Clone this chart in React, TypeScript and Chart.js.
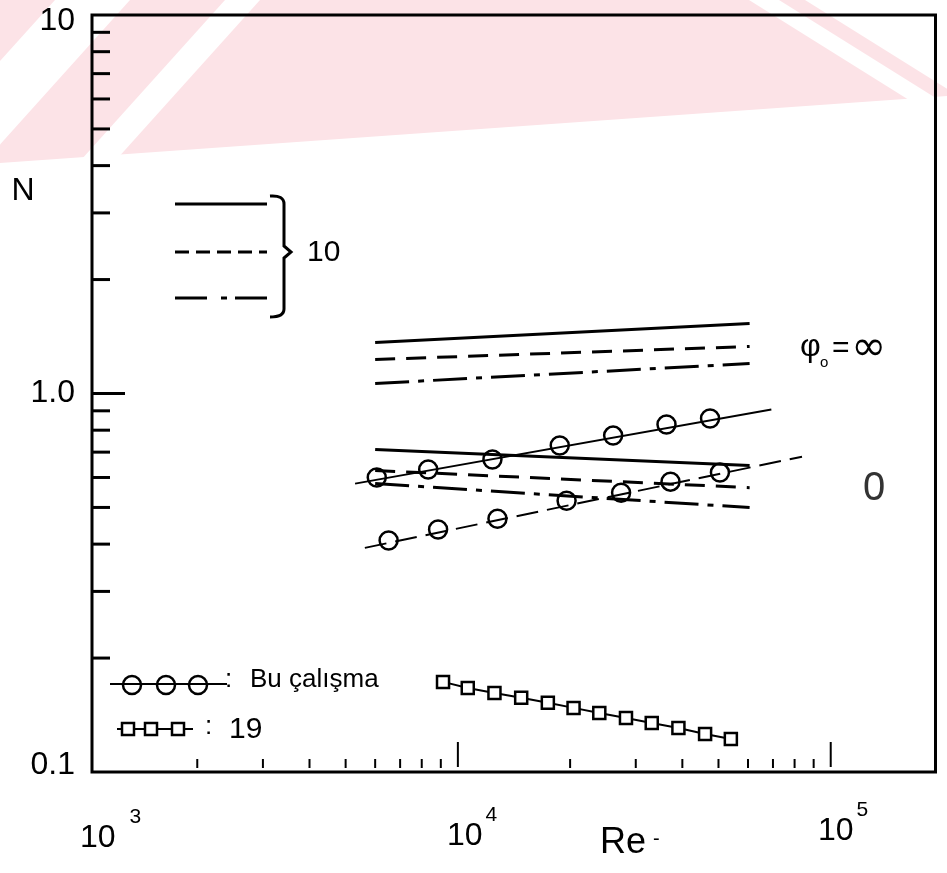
import { useEffect, useRef } from 'react';
import { Chart, registerables } from 'chart.js';
Chart.register(...registerables);

// ---- axis ranges / ticks ----
const X_MIN = 1044;
const X_MAX = 191000;
const Y_MIN = 0.1;
const Y_MAX = 10;
const xMajorTicks = [1000, 10000, 100000];
const xTickExponents = ['3', '4', '5'];
const xMinorTicks = [2000, 3000, 4000, 5000, 6000, 7000, 8000, 9000, 20000, 30000, 40000, 50000, 60000, 70000, 80000, 90000];
const yTickValues = [0.1, 1, 10];
const yTickLabels = ['0.1', '1.0', '10'];
const yMinorTicks = [0.2, 0.3, 0.4, 0.5, 0.6, 0.7, 0.8, 0.9, 2, 3, 4, 5, 6, 7, 8, 9];

// ---- series ----
const lineRe = [6000, 60600];
const phiInfSolid = [1.364, 1.532];
const phiInfDashed = [1.23, 1.331];
const phiInfDashDot = [1.063, 1.2];
const phi0Solid = [0.711, 0.645];
const phi0Dashed = [0.626, 0.564];
const phi0DashDot = [0.578, 0.4995];

const fit1Re = [5300, 69300];
const fit1N = [0.578, 0.907];
const circle1Re = [6060, 8325, 12380, 18760, 26090, 36270, 47460];
const circle1N = [0.6, 0.63, 0.669, 0.729, 0.774, 0.828, 0.859];

const fit2Re = [5630, 83750];
const fit2N = [0.391, 0.681];
const circle2Re = [6520, 8850, 12770, 19570, 27400, 37180, 50450];
const circle2N = [0.409, 0.437, 0.467, 0.521, 0.547, 0.585, 0.618];

const squareRe = [9124, 10630, 12535, 14785, 17430, 20430, 23950, 28240, 33110, 39040, 46030, 53970];
const squareN = [0.173, 0.1668, 0.1618, 0.157, 0.1523, 0.1477, 0.1432, 0.1389, 0.1348, 0.1307, 0.126, 0.1223];

const FONT = "'Liberation Sans', Arial, sans-serif";
const zip = (xs: number[], ys: number[]) => xs.map((x, i) => ({ x, y: ys[i] }));

const DASH = [20, 11];
const DASHDOT = [34, 9, 6, 9];

const decor = {
  id: 'decor',
  beforeDraw(chart: any) {
    const ctx = chart.ctx as CanvasRenderingContext2D;
    ctx.save();
    ctx.fillStyle = '#ffffff';
    ctx.fillRect(0, 0, chart.width, chart.height);
    // pale red watermark
    ctx.beginPath();
    ctx.moveTo(0, 0);
    ctx.lineTo(chart.width, 0);
    ctx.lineTo(chart.width, 96);
    ctx.lineTo(0, 163);
    ctx.closePath();
    ctx.clip();
    ctx.fillStyle = '#fce3e7';
    const band = (a: number, b: number, s: number) => {
      ctx.beginPath();
      ctx.moveTo(a, 0);
      ctx.lineTo(b, 0);
      ctx.lineTo(b + s * 200, 200);
      ctx.lineTo(a + s * 200, 200);
      ctx.closePath();
      ctx.fill();
    };
    band(-400, 55, -0.9);
    band(130, 225, -0.9);
    band(779, 805, 1.6);
    ctx.beginPath();
    ctx.moveTo(260, 0);
    ctx.lineTo(749, 0);
    ctx.lineTo(749 + 320, 200);
    ctx.lineTo(260 - 180, 200);
    ctx.closePath();
    ctx.fill();
    ctx.restore();
  },
  afterDraw(chart: any) {
    const ctx = chart.ctx as CanvasRenderingContext2D;
    const { left, right, top, bottom } = chart.chartArea;
    const xs = chart.scales.x;
    const ys = chart.scales.y;
    ctx.save();
    ctx.strokeStyle = '#000';
    ctx.fillStyle = '#000';
    ctx.lineCap = 'butt';
    // frame
    ctx.lineWidth = 3;
    ctx.strokeRect(left, top, right - left, bottom - top);
    // y ticks
    yMinorTicks.forEach((v) => {
      const p = ys.getPixelForValue(v);
      ctx.beginPath();
      ctx.moveTo(left, p);
      ctx.lineTo(left + 18, p);
      ctx.stroke();
    });
    {
      const p = ys.getPixelForValue(1);
      ctx.beginPath();
      ctx.moveTo(left, p);
      ctx.lineTo(left + 33, p);
      ctx.stroke();
    }
    // x ticks
    ctx.lineWidth = 2;
    xMinorTicks.forEach((v) => {
      const p = xs.getPixelForValue(v);
      ctx.beginPath();
      ctx.moveTo(p, bottom - 4);
      ctx.lineTo(p, bottom - 13);
      ctx.stroke();
    });
    xMajorTicks.forEach((v) => {
      if (v < X_MIN) return;
      const p = xs.getPixelForValue(v);
      ctx.beginPath();
      ctx.moveTo(p, bottom - 5);
      ctx.lineTo(p, bottom - 30);
      ctx.stroke();
    });
    // y tick labels
    ctx.font = `32px ${FONT}`;
    ctx.textAlign = 'right';
    ctx.textBaseline = 'middle';
    yTickValues.forEach((v, i) => {
      let p = ys.getPixelForValue(v);
      if (v === Y_MAX) p += 6;
      if (v === Y_MIN) p -= 7;
      ctx.fillText(yTickLabels[i], left - 17, p);
    });
    // y title
    ctx.textAlign = 'center';
    ctx.fillText('N', 23, 191);
    // x tick labels
    ctx.textBaseline = 'alphabetic';
    ctx.textAlign = 'left';
    const xLabelLeft = [80, 447, 818];
    const xLabelBase = [847, 845, 840];
    xMajorTicks.forEach((_v, i) => {
      ctx.font = `32px ${FONT}`;
      ctx.fillText('10', xLabelLeft[i], xLabelBase[i]);
      const w = ctx.measureText('10').width;
      ctx.font = `21px ${FONT}`;
      ctx.fillText(xTickExponents[i], xLabelLeft[i] + w + (i === 0 ? 14 : 3), xLabelBase[i] - 24);
    });
    // x title
    ctx.font = `36px ${FONT}`;
    ctx.fillText('Re', 600, 853);
    ctx.font = `20px ${FONT}`;
    ctx.fillText('-', 653, 845);

    // top-left legend
    ctx.lineWidth = 3;
    const legLine = (y: number, dash: number[]) => {
      ctx.setLineDash(dash);
      ctx.beginPath();
      ctx.moveTo(175, y);
      ctx.lineTo(267, y);
      ctx.stroke();
    };
    legLine(204, []);
    legLine(252, [14, 7]);
    legLine(298, [32, 14, 6, 8]);
    ctx.setLineDash([]);
    // brace
    ctx.lineWidth = 3;
    ctx.beginPath();
    ctx.moveTo(270, 196);
    ctx.quadraticCurveTo(284, 195, 284, 204);
    ctx.lineTo(284, 246);
    ctx.lineTo(291, 252);
    ctx.lineTo(284, 258);
    ctx.lineTo(284, 309);
    ctx.quadraticCurveTo(284, 317, 270, 317);
    ctx.stroke();
    ctx.font = `30px ${FONT}`;
    ctx.textBaseline = 'middle';
    ctx.fillText('10', 307, 253);

    // right-side annotations
    ctx.textBaseline = 'alphabetic';
    ctx.font = `32px ${FONT}`;
    ctx.fillText('φ', 800, 356);
    ctx.font = `15px ${FONT}`;
    ctx.fillText('o', 820, 367);
    ctx.font = `30px ${FONT}`;
    ctx.fillText('=', 832, 357);
    ctx.font = `42px 'DejaVu Sans', sans-serif`;
    ctx.fillText('∞', 851, 360);
    ctx.fillStyle = '#333';
    ctx.font = `40px ${FONT}`;
    ctx.textBaseline = 'middle';
    ctx.fillText('0', 863, 489);
    ctx.fillStyle = '#000';

    // bottom-left legend
    ctx.lineWidth = 2;
    ctx.beginPath();
    ctx.moveTo(110, 684);
    ctx.lineTo(227, 684);
    ctx.stroke();
    ctx.lineWidth = 2.5;
    [132, 166, 198].forEach((cx) => {
      ctx.beginPath();
      ctx.arc(cx, 685, 9, 0, Math.PI * 2);
      ctx.stroke();
    });
    ctx.textBaseline = 'alphabetic';
    ctx.font = `26px ${FONT}`;
    ctx.fillText(':', 225, 687);
    ctx.fillText('Bu çalışma', 250, 687);

    ctx.lineWidth = 2;
    ctx.beginPath();
    ctx.moveTo(117, 729);
    ctx.lineTo(193, 729);
    ctx.stroke();
    ctx.lineWidth = 2.5;
    [128, 151, 178].forEach((cx) => {
      ctx.fillStyle = '#fff';
      ctx.fillRect(cx - 6, 723, 12, 12);
      ctx.strokeRect(cx - 6, 723, 12, 12);
    });
    ctx.fillStyle = '#000';
    ctx.font = `26px ${FONT}`;
    ctx.fillText(':', 205, 734);
    ctx.font = `30px ${FONT}`;
    ctx.fillText('19', 229, 738);
    ctx.restore();
  },
};

export default function App() {
  const ref = useRef<HTMLCanvasElement | null>(null);
  useEffect(() => {
    if (!ref.current) return;
    const lineDs = (ys: number[], dash: number[], width = 3) => ({
      data: zip(lineRe, ys),
      borderColor: '#000',
      borderWidth: width,
      borderDash: dash,
      pointRadius: 0,
      fill: false,
    });
    const circleDs = (xs: number[], ys: number[]) => ({
      data: zip(xs, ys),
      showLine: false,
      pointStyle: 'circle',
      pointRadius: 9,
      pointBorderWidth: 2.5,
      pointBorderColor: '#000',
      pointBackgroundColor: 'rgba(0,0,0,0)',
    });
    const chart = new Chart(ref.current, {
      type: 'line',
      data: {
        datasets: [
          lineDs(phiInfSolid, []),
          lineDs(phiInfDashed, DASH),
          lineDs(phiInfDashDot, DASHDOT),
          lineDs(phi0Solid, []),
          lineDs(phi0Dashed, DASH),
          lineDs(phi0DashDot, DASHDOT),
          { data: zip(fit1Re, fit1N), borderColor: '#000', borderWidth: 2, pointRadius: 0 },
          circleDs(circle1Re, circle1N),
          { data: zip(fit2Re, fit2N), borderColor: '#000', borderWidth: 2, borderDash: [22, 9], pointRadius: 0 },
          circleDs(circle2Re, circle2N),
          {
            data: zip(squareRe, squareN),
            borderColor: '#000',
            borderWidth: 2,
            pointStyle: 'rect',
            pointRadius: 8.5,
            pointBorderWidth: 2.5,
            pointBorderColor: '#000',
            pointBackgroundColor: '#fff',
          },
        ] as any,
      },
      options: {
        animation: false,
        responsive: false,
        devicePixelRatio: 1,
        layout: { padding: { left: 92, top: 15, right: 2, bottom: 101 } },
        plugins: { legend: { display: false }, tooltip: { enabled: false } },
        scales: {
          x: { type: 'logarithmic', min: X_MIN, max: X_MAX, display: false },
          y: { type: 'logarithmic', min: Y_MIN, max: Y_MAX, display: false },
        },
      },
      plugins: [decor],
    });
    return () => chart.destroy();
  }, []);
  return (
    <div style={{ position: 'absolute', left: 0, top: 0, width: 947, height: 873 }}>
      <canvas ref={ref} width={947} height={873} style={{ display: 'block' }} />
    </div>
  );
}
